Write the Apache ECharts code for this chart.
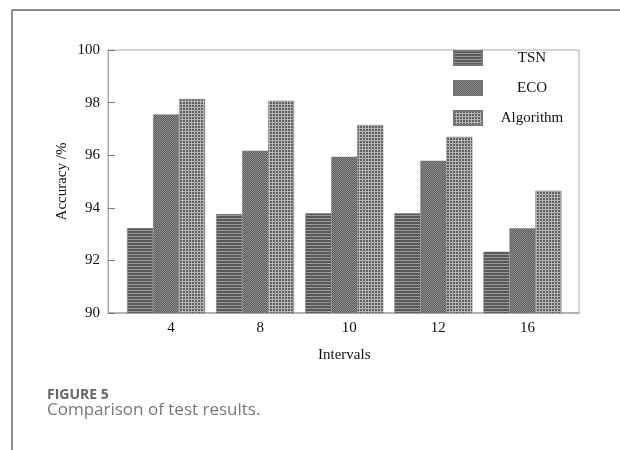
<!DOCTYPE html>
<html>
<head>
<meta charset="utf-8">
<script src="https://cdn.jsdelivr.net/npm/echarts@6/dist/echarts.min.js"></script>
<style>
html,body{margin:0;padding:0;background:#fff;}
#chart{width:620px;height:450px;}
</style>
</head>
<body>
<div id="chart"></div>
<script>
var categories = ['4', '8', '10', '12', '16'];
var seriesNames = ['TSN', 'ECO', 'Algorithm'];
var tsnValues = [93.23, 93.76, 93.79, 93.79, 92.33];
var ecoValues = [97.55, 96.17, 95.94, 95.79, 93.22];
var algoValues = [98.14, 98.07, 97.15, 96.70, 94.65];
var yTicks = [90, 92, 94, 96, 98, 100];

function makePattern(w, h, draw) {
  var c = document.createElement('canvas');
  c.width = w; c.height = h;
  var ctx = c.getContext('2d');
  draw(ctx);
  return { image: c, repeat: 'repeat' };
}
var tsnPattern = makePattern(1, 3, function (ctx) {
  ctx.fillStyle = '#585858'; ctx.fillRect(0, 0, 1, 3);
  ctx.fillStyle = '#9a9a9a'; ctx.fillRect(0, 2, 1, 1);
});
var ecoPattern = makePattern(2, 2, function (ctx) {
  ctx.fillStyle = '#5c5c5c'; ctx.fillRect(0, 0, 2, 2);
  ctx.fillStyle = '#8e8e8e'; ctx.fillRect(0, 0, 1, 1); ctx.fillRect(1, 1, 1, 1);
});
var algoPattern = makePattern(3, 3, function (ctx) {
  ctx.fillStyle = '#606060'; ctx.fillRect(0, 0, 3, 3);
  ctx.fillStyle = '#b4b4b4'; ctx.fillRect(2, 0, 1, 3); ctx.fillRect(0, 2, 3, 1);
});
var patterns = [tsnPattern, ecoPattern, algoPattern];
var values = [tsnValues, ecoValues, algoValues];

var serif = '"Liberation Serif", "Times New Roman", serif';
var chart = echarts.init(document.getElementById('chart'), null, { renderer: 'canvas' });

var series = seriesNames.map(function (n, i) {
  return {
    name: n,
    type: 'bar',
    xAxisIndex: 1,
    yAxisIndex: 1,
    barGap: '0%',
    barCategoryGap: '12.5%',
    itemStyle: { color: patterns[i], borderColor: '#777', borderWidth: 0.5 },
    data: values[i]
  };
});

chart.setOption({
  animation: false,
  backgroundColor: '#fff',
  grid: [
    { left: 108, right: 41, top: 50, bottom: 137, show: true, borderColor: '#aaa', borderWidth: 1 },
    { left: 121.5, width: 445.5, top: 50, bottom: 137 }
  ],
  xAxis: [
    { type: 'value', gridIndex: 0, min: 0, max: 1,
      axisLine: { show: true, lineStyle: { color: '#aaa', width: 1.5 } },
      axisTick: { show: false }, axisLabel: { show: false }, splitLine: { show: false } },
    { type: 'category', gridIndex: 1, data: categories,
      axisLine: { show: false }, axisTick: { show: false },
      axisLabel: { margin: 8, color: '#111', fontFamily: serif, fontSize: 15, padding: [0, 0, 0, 10] },
      name: 'Intervals', nameLocation: 'middle', nameGap: 35, nameMoveOverlap: false,
      nameTextStyle: { color: '#111', fontFamily: serif, fontSize: 15 } }
  ],
  yAxis: [
    { type: 'value', gridIndex: 0, min: yTicks[0], max: yTicks[yTicks.length - 1], interval: 2,
      axisLine: { show: true, lineStyle: { color: '#aaa', width: 1 } },
      axisTick: { show: true, inside: true, length: 7, lineStyle: { color: '#777' } },
      axisLabel: { margin: 8, color: '#111', fontFamily: serif, fontSize: 15 },
      splitLine: { show: false },
      name: 'Accuracy /%', nameLocation: 'middle', nameGap: 38, nameRotate: 90, nameMoveOverlap: false,
      nameTextStyle: { color: '#111', fontFamily: serif, fontSize: 15 } },
    { type: 'value', gridIndex: 1, min: 90, max: 100, show: false }
  ],
  legend: {
    orient: 'vertical', left: 448, top: 45,
    icon: 'rect',
    itemWidth: 28, itemHeight: 14, itemGap: 14,
    data: seriesNames,
    formatter: '{a|{name}}',
    textStyle: { rich: { a: { width: 90, align: 'center', color: '#111', fontFamily: serif, fontSize: 15 } } }
  },
  graphic: [
    { type: 'line', shape: { x1: 12, y1: 10, x2: 620, y2: 10 }, style: { stroke: '#8a8a8a', lineWidth: 2 } },
    { type: 'line', shape: { x1: 12, y1: 10, x2: 12, y2: 450 }, style: { stroke: '#444', lineWidth: 1.2 } },
    { type: 'text', left: 47, top: 388, style: { text: 'FIGURE 5', fill: '#666', font: 'bold 14px "Open Sans", sans-serif' } },
    { type: 'text', left: 47, top: 402, style: { text: 'Comparison of test results.', fill: '#777', font: '17px "Open Sans", sans-serif' } }
  ],
  series: series
});
</script>
</body>
</html>
